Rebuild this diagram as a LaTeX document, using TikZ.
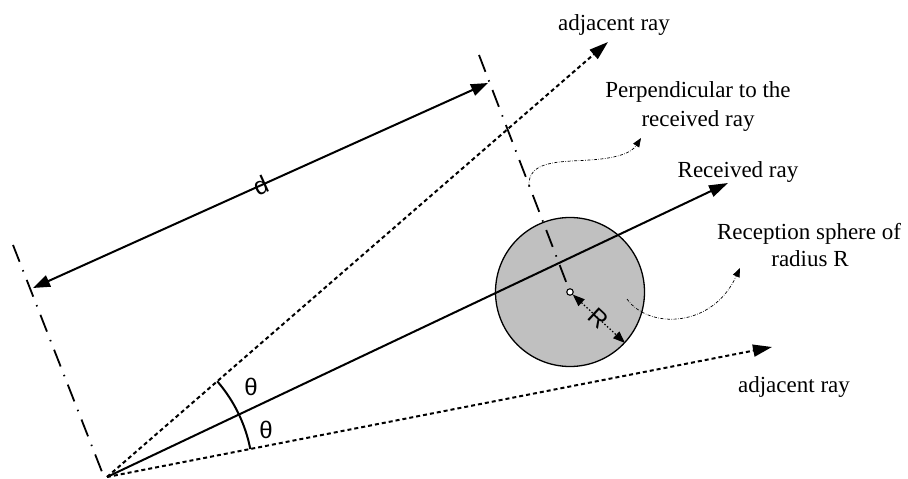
\documentclass[tikz,border=0pt]{standalone}
\usepackage{fontspec}
\setmainfont{Liberation Serif}
\setsansfont{Liberation Sans}
\usetikzlibrary{arrows.meta}
\begin{document}
\begin{tikzpicture}[x=1pt,y=1pt,
  lbl/.style={font=\fontsize{23}{28}\selectfont, inner sep=0pt, anchor=base},
  sym/.style={font=\sffamily\fontsize{24}{26}\selectfont, inner sep=0pt},
  bigtip/.style={-{Triangle[length=19pt,width=12pt]}},
  bigboth/.style={{Triangle[length=17pt,width=12pt]}-{Triangle[length=17pt,width=12pt]}},
  raydash/.style={line width=2pt, dash pattern=on 4pt off 3pt},
  raysolid/.style={line width=2pt},
  dashdotline/.style={line width=1.8pt, dash pattern=on 18pt off 9pt on 1.5pt off 9pt},
  thinwave/.style={line width=0.7pt, dash pattern=on 3pt off 1.5pt on 0.6pt off 1.5pt, -{Triangle[length=9pt,width=7pt]}},
  rdim/.style={line width=1.2pt, dash pattern=on 1.5pt off 2pt, {Triangle[length=12pt,width=9pt]}-{Triangle[length=12pt,width=9pt]}},
]
\useasboundingbox (0,0) rectangle (908,479);

% key points
\coordinate (O) at (107,2);
\coordinate (T1) at (608,437);
\coordinate (T2) at (728,296);
\coordinate (T3) at (772,132);
\coordinate (L1) at (13,234);
\coordinate (L2) at (104,2);
\coordinate (P1) at (479,424);
\coordinate (D1) at (33,191);
\coordinate (D2) at (488,396);
\coordinate (RE) at (625,136);
\coordinate (W1s) at (529,292);
\coordinate (W1e) at (641,341);
\coordinate (W2s) at (627,180);
\coordinate (W2e) at (740,211);

% reception sphere
\node[circle, draw, line width=1.3pt, fill={rgb,255:red,192;green,192;blue,192},
      minimum size=149pt, inner sep=0pt] (S) at (570,187) {};

% rays
\draw[raydash, bigtip] (O) -- (T1);
\draw[raysolid, bigtip] (O) -- (T2);
\draw[raydash, bigtip] (O) -- (T3);

% angle arcs
\draw[line width=2pt] (O) ++(25.33:146) arc[start angle=25.33, end angle=40.97, radius=146];
\draw[line width=2pt] (O) ++(11.06:146) arc[start angle=11.06, end angle=25.33, radius=146];
\node[sym] (th1) at (251,92) {θ};
\node[sym] (th2) at (266,49) {θ};

% perpendicular lines
\draw[dashdotline] (L1) -- (L2);
\draw[dashdotline] (P1) -- (S.center);

% distance d
\draw[raysolid, bigboth] (D1) -- (D2) node[midway, sloped, sym, font=\sffamily\fontsize{25}{27}\selectfont] (dl) {d};

% centre and radius
\node[circle, draw, fill=white, inner sep=0pt, minimum size=6.5pt, line width=1.1pt] (C) at (S.center) {};
\draw[rdim] (C) -- (RE) node[midway, sloped, sym] (rl) {R};

% wavy pointers
\draw[thinwave] (W1s) .. controls (527,319) and (560,317) .. (590,319) .. controls (620,321) and (632,327) .. (W1e);
\draw[thinwave] (W2s) .. controls (648,150) and (712,150) .. (W2e);

% labels
\node[lbl] (a1) at (614,448) {adjacent ray};
\node[lbl] (p1) at (698,381) {Perpendicular to the};
\node[lbl] (p2) at (698,352) {received ray};
\node[lbl] (rr) at (738,301) {Received ray};
\node[lbl] (s1) at (809,239) {Reception sphere of};
\node[lbl] (s2) at (810,212) {radius R};
\node[lbl] (a2) at (794,86) {adjacent ray};
\end{tikzpicture}
\end{document}
